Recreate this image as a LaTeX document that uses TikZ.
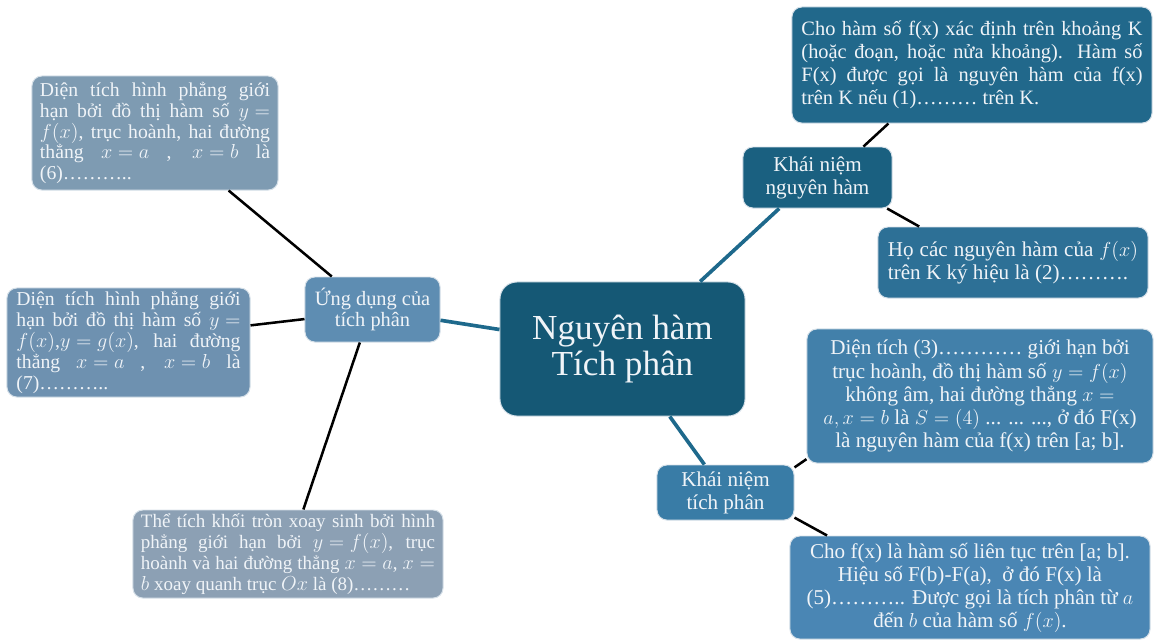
\documentclass[tikz,border=0pt]{standalone}
\usepackage{fontspec}
\setmainfont{Liberation Serif}
\usepackage{xcolor}
\usepackage{tikz}
\usetikzlibrary{positioning,calc}

\definecolor{centfill}{RGB}{21,88,117}
\definecolor{knnhfill}{RGB}{26,96,128}
\definecolor{deffill}{RGB}{33,104,139}
\definecolor{hofill}{RGB}{45,112,150}
\definecolor{kntpfill}{RGB}{57,124,166}
\definecolor{areafill}{RGB}{66,128,170}
\definecolor{intfill}{RGB}{74,134,180}
\definecolor{ungfill}{RGB}{94,141,178}
\definecolor{ltfill}{RGB}{126,155,178}
\definecolor{lmfill}{RGB}{110,145,176}
\definecolor{lbfill}{RGB}{140,160,180}
\definecolor{linkteal}{RGB}{30,105,140}
\definecolor{boxline}{RGB}{215,225,233}
\definecolor{boxtext}{RGB}{240,244,248}

% math spacing that does not stretch in justified lines
\medmuskip=4mu\relax
\thickmuskip=5mu\relax
% loose justified lines without warnings
\newcommand{\loosepar}{\tolerance=9999\relax\hbadness=10000\relax}

\begin{document}
\begin{tikzpicture}[
    x=0.025cm, y=-0.025cm,
    mmbox/.style={rectangle, rounded corners=7pt, draw=boxline, line width=0.7pt,
        text=boxtext, inner xsep=0pt, inner ysep=2pt},
    bigfont/.style={font=\fontsize{15}{16.4}\selectfont},
    smallfont/.style={font=\fontsize{14}{14.8}\selectfont\loosepar},
    teallink/.style={draw=linkteal, line width=2.6pt},
    blacklink/.style={draw=black, line width=1.8pt}
]
\useasboundingbox (0,0) rectangle (1156,641);

% centre
\node[mmbox, fill=centfill, rounded corners=12pt, minimum width=6.125cm, minimum height=3.35cm,
    align=center, font=\fontsize{25}{26}\selectfont] (cent) at (622.5,349) {Nguyên hàm\\Tích phân};

% right branch: nguyen ham
\node[mmbox, bigfont, fill=knnhfill, minimum width=3.725cm, minimum height=1.525cm,
    align=center] (knnh) at (817.5,177.5) {Khái niệm\\nguyên hàm};
\node[mmbox, fill=deffill, minimum width=9cm, minimum height=2.9cm,
    text width=8.525cm, align=justify,
    font=\fontsize{14.5}{16.4}\selectfont\loosepar] (defnh) at (972,65) {%
    Cho hàm số f(x) xác định trên khoảng K\linebreak
    (hoặc đoạn, hoặc nửa khoảng). Hàm số\linebreak
    F(x) được gọi là nguyên hàm của f(x)\linebreak
    trên K nếu (1)……… trên K.};
\node[mmbox, fill=hofill, minimum width=6.75cm, minimum height=1.775cm,
    text width=6.25cm, align=justify,
    font=\fontsize{15}{16.4}\selectfont\loosepar] (honh) at (1013,262.5) {%
    Họ các nguyên hàm của $f(x)$\linebreak
    trên K ký hiệu là (2)……….};

% right branch: tich phan
\node[mmbox, bigfont, fill=kntpfill, minimum width=3.425cm, minimum height=1.375cm,
    align=center] (kntp) at (725.5,492.5) {Khái niệm\\tích phân};
\node[mmbox, bigfont, fill=areafill, minimum width=8.65cm, minimum height=3.35cm,
    align=center] (area) at (980,396) {%
    Diện tích (3)………… giới hạn bởi\\
    trục hoành, đồ thị hàm số $y=f(x)$\\
    không âm, hai đường thẳng $x=$\\
    $a,x=b$ là $S=(4)$ ... ... ..., ở đó F(x)\\
    là nguyên hàm của f(x) trên [a; b].};
\node[mmbox, bigfont, fill=intfill, minimum width=9cm, minimum height=2.575cm,
    align=center] (integ) at (970,587.5) {%
    Cho f(x) là hàm số liên tục trên [a; b].\\
    Hiệu số F(b)-F(a),\ \ ở đó F(x) là\\
    (5)……….. Được gọi là tích phân từ $a$\\
    đến $b$ của hàm số $f(x)$.};

% left branch: ung dung
\node[mmbox, fill=ungfill, minimum width=3.375cm, minimum height=1.625cm,
    align=center, font=\fontsize{14.5}{14.6}\selectfont] (ung) at (372.5,309.5) {Ứng dụng của\\tích phân};
\node[mmbox, smallfont, fill=ltfill, minimum width=6.15cm, minimum height=2.85cm,
    text width=5.75cm, align=justify] (lt) at (155,133) {%
    Diện tích hình phẳng giới\linebreak
    hạn bởi đồ thị hàm số $y=$\linebreak
    $f(x)$, trục hoành, hai đường\linebreak
    thẳng $x=a$ , $x=b$ là\linebreak
    (6)………..};
\node[mmbox, smallfont, fill=lmfill, minimum width=6.075cm, minimum height=2.725cm,
    text width=5.6cm, align=justify] (lm) at (128.5,342.5) {%
    Diện tích hình phẳng giới\linebreak
    hạn bởi đồ thị hàm số $y=$\linebreak
    $f(x)$,$y=g(x)$, hai đường\linebreak
    thẳng $x=a$ , $x=b$ là\linebreak
    (7)………..};
\node[mmbox, fill=lbfill, minimum width=7.75cm, minimum height=2.2cm,
    text width=7.35cm, align=justify,
    font=\fontsize{13.5}{14.8}\selectfont\loosepar] (lb) at (288,554) {%
    Thể tích khối tròn xoay sinh bởi hình\linebreak
    phẳng giới hạn bởi $y=f(x)$, trục\linebreak
    hoành và hai đường thẳng $x=a$, $x=$\linebreak
    $b$ xoay quanh trục $Ox$ là (8)………};

% links
\draw[teallink] (cent.41) -- (knnh.219);
\draw[teallink] (cent.305) -- (kntp.127);
\draw[teallink] (cent.171) -- (ung.-9);
\draw[blacklink] (knnh.34) -- (defnh.215);
\draw[blacklink] (knnh.336) -- (honh.159);
\draw[blacklink] (kntp.20) -- (area.200);
\draw[blacklink] (kntp.-20) -- (integ.160);
\draw[blacklink] (ung.141) -- (lt.-38);
\draw[blacklink] (ung.188) -- (lm.8);
\draw[blacklink] (ung.249) -- (lb.71);
\end{tikzpicture}
\end{document}
